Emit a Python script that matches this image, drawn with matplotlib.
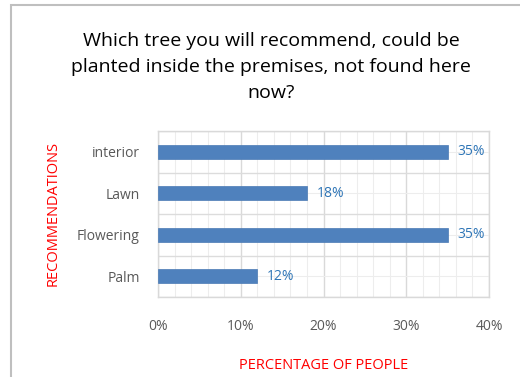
import matplotlib.pyplot as plt
from matplotlib.patches import Rectangle
from matplotlib.ticker import MultipleLocator, FixedLocator

categories = ['Palm', 'Flowering', 'Lawn', 'interior']
values = [12, 35, 18, 35]
labels = ['12%', '35%', '18%', '35%']
xticks = [0, 10, 20, 30, 40]
xtick_labels = ['0%', '10%', '20%', '30%', '40%']

plt.rcParams['font.family'] = ['Open Sans', 'DejaVu Sans']

fig = plt.figure(figsize=(5.2, 3.77), dpi=100)
ax = fig.add_axes([158/520, 1-297/377, (489-158)/520, (297-131)/377])

# outer chart border (grey, cut off at right/bottom)
fig.patches.append(Rectangle((10.5/520, -0.1), 1.2, 1-4.5/377+0.1, transform=fig.transFigure,
                             fill=False, edgecolor='#bfbfbf', linewidth=1.5))

pos = range(len(categories))
ax.barh(pos, values, height=0.34, color='#4f81bd', edgecolor='#4a7ab4', linewidth=0.5, zorder=3)
for p, v, t in zip(pos, values, labels):
    ax.text(v + 1.2, p, t, va='center', ha='left', fontsize=10, color='#2e75b6')

ax.set_xlim(0, 40)
ax.set_ylim(-0.5, 3.5)
ax.set_xticks(xticks)
ax.set_xticklabels(xtick_labels)
ax.xaxis.set_minor_locator(MultipleLocator(2))
ax.set_yticks(list(pos))
ax.set_yticklabels(categories)
ax.yaxis.set_minor_locator(FixedLocator([-0.5, 0.5, 1.5, 2.5, 3.5]))

ax.grid(which='major', axis='x', color='#d9d9d9', linewidth=1.0, zorder=0)
ax.grid(which='minor', axis='x', color='#ededed', linewidth=0.8, zorder=0)
ax.grid(which='minor', axis='y', color='#dcdcdc', linewidth=1.0, zorder=0)
ax.grid(which='major', axis='y', color='#ededed', linewidth=0.8, zorder=0)
ax.set_axisbelow(True)

for s in ax.spines.values():
    s.set_color('#d9d9d9')
    s.set_linewidth(1.0)

ax.tick_params(which='both', length=0)
ax.tick_params(axis='x', pad=16, labelsize=10, labelcolor='#595959')
ax.tick_params(axis='y', pad=13, labelsize=10, labelcolor='#595959')

ax.set_xlabel('PERCENTAGE OF PEOPLE', color='red', fontsize=10.5, labelpad=17)
ax.set_ylabel('RECOMMENDATIONS', color='red', fontsize=10.5, labelpad=12)

fig.text(271/520, 1-67/377, 'Which tree you will recommend, could be\nplanted inside the premises, not found here\nnow?',
         ha='center', va='center', fontsize=14, color='#000000', linespacing=1.55)

fig.savefig('out.png', dpi=100)
